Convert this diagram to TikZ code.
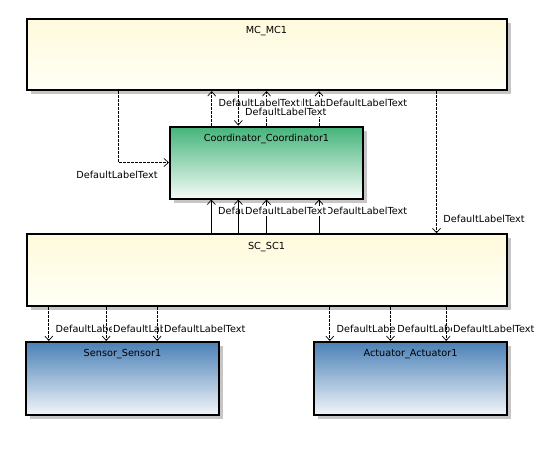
\documentclass[tikz,border=0pt]{standalone}
\usepackage{fontspec}
\setmainfont{DejaVu Sans}
\usetikzlibrary{arrows.meta,shadows}
\definecolor{ylTop}{HTML}{FFFADC}
\definecolor{ylBot}{HTML}{FFFFF6}
\definecolor{grTop}{HTML}{44B47A}
\definecolor{grBot}{HTML}{F4FBF7}
\definecolor{blTop}{HTML}{4A80B6}
\definecolor{blBot}{HTML}{F3F6FA}
\definecolor{shd}{HTML}{C6C6C6}
\tikzset{
  box/.style={draw=black, line width=2pt, inner sep=0pt,
    drop shadow={shadow xshift=4pt,shadow yshift=-4pt,fill=shd,opacity=1}},
  ylbox/.style={box, top color=ylTop, bottom color=ylBot},
  grbox/.style={box, top color=grTop, bottom color=grBot},
  blbox/.style={box, top color=blTop, bottom color=blBot},
  arr/.style={-{Straight Barb[length=4.5pt,width=8pt,line width=0.7pt]}},
  dep/.style={draw, line width=0.7pt, dash pattern=on 2.5pt off 1.5pt, arr},
  sol/.style={draw, line width=0.9pt, arr},
  lbl/.style={fill=white, inner sep=1.2pt, anchor=west},
}
\begin{document}
\begin{tikzpicture}[x=1pt,y=-1pt,font=\fontsize{9.7}{11}\selectfont]
\useasboundingbox (0,0) rectangle (556,448);

% boxes
\node[ylbox, minimum width=480pt, minimum height=71.5pt,
  label={[name=mct,anchor=center,yshift=-13.5pt]north:MC\_MC1}] (mc) at (266.5,54.3) {};
\node[grbox, minimum width=193pt, minimum height=72pt,
  label={[name=coordt,anchor=center,yshift=-13.5pt]north:Coordinator\_Coordinator1}] (coord) at (266.5,162.5) {};
\node[ylbox, minimum width=480pt, minimum height=72pt,
  label={[name=sct,anchor=center,yshift=-13.5pt]north:SC\_SC1}] (sc) at (266.5,270.3) {};
\node[blbox, minimum width=193pt, minimum height=73pt,
  label={[name=sent,anchor=center,yshift=-13.5pt]north:Sensor\_Sensor1}] (sensor) at (122.5,378.5) {};
\node[blbox, minimum width=193pt, minimum height=73pt,
  label={[name=actt,anchor=center,yshift=-13.5pt]north:Actuator\_Actuator1}] (act) at (410.5,378.5) {};

% MC -> Coordinator (left, elbow)
\draw[dep] ([xshift=93.3pt]mc.south west) |- (coord.west);
\node[lbl, anchor=east] (lL) at ([xshift=-10pt,yshift=-12.5pt]coord.west) {DefaultLabelText};

% top connectors between Coordinator and MC
\coordinate (t1s) at ([xshift=42.7pt]coord.north west);
\coordinate (t2e) at ([xshift=69.3pt]coord.north west);
\coordinate (t4s) at ([xshift=150pt]coord.north west);
\draw[dep] (coord.north) -- coordinate[pos=0.67] (t3m) (coord.north |- mc.south);
\draw[dep] (t4s) -- coordinate[pos=0.67] (t4m) (t4s |- mc.south);
\node[lbl] (l3) at ([xshift=5.5pt]t3m) {DefaultLabelText};
\draw[dep] (t1s) -- coordinate[pos=0.67] (t1m) (t1s |- mc.south);
\node[lbl] (l1) at ([xshift=5.5pt]t1m) {DefaultLabelText};
\node[lbl] (l4) at ([xshift=5.5pt]t4m) {DefaultLabelText};
\draw[dep] (t2e |- mc.south) -- coordinate[pos=0.6] (t2m) (t2e);
\node[lbl] (l2) at ([xshift=5.5pt]t2m) {DefaultLabelText};

% bottom connectors SC -> Coordinator
\coordinate (b1e) at ([xshift=42.3pt]coord.south west);
\coordinate (b2e) at ([xshift=69.3pt]coord.south west);
\coordinate (b4e) at ([xshift=150pt]coord.south west);
\draw[sol] (b1e |- sc.north) -- coordinate[pos=0.65] (b1m) (b1e);
\node[lbl] (lb1) at ([xshift=5.5pt]b1m) {DefaultLabelText};
\draw[sol] (coord.south |- sc.north) -- coordinate[pos=0.65] (b3m) (coord.south);
\node[lbl] (lb3) at ([xshift=5.5pt]b3m) {DefaultLabelText};
\draw[sol] (b4e |- sc.north) -- coordinate[pos=0.65] (b4m) (b4e);
\node[lbl] (lb4) at ([xshift=5.5pt]b4m) {DefaultLabelText};
\draw[sol] (b2e |- sc.north) -- coordinate[pos=0.65] (b2m) (b2e);
\node[lbl] (lb2) at ([xshift=5.5pt]b2m) {DefaultLabelText};

% MC -> SC (right)
\coordinate (rs) at ([xshift=411pt]mc.south west);
\draw[dep] (rs) -- coordinate[pos=0.9] (rm) (rs |- sc.north);
\node[lbl] (lr) at ([xshift=5.5pt]rm) {DefaultLabelText};

% SC -> Sensor
\coordinate (s1) at ([xshift=23.3pt]sc.south west);
\coordinate (s2) at ([xshift=80.7pt]sc.south west);
\coordinate (s3) at ([xshift=131.7pt]sc.south west);
\draw[dep] (s1) -- coordinate[pos=0.64] (s1m) (s1 |- sensor.north);
\node[lbl] (ls1) at ([xshift=5.5pt]s1m) {DefaultLabelText};
\draw[dep] (s2) -- coordinate[pos=0.64] (s2m) (s2 |- sensor.north);
\node[lbl] (ls2) at ([xshift=5.5pt]s2m) {DefaultLabelText};
\draw[dep] (s3) -- coordinate[pos=0.64] (s3m) (s3 |- sensor.north);
\node[lbl] (ls3) at ([xshift=5.5pt]s3m) {DefaultLabelText};

% SC -> Actuator
\coordinate (a1) at ([xshift=304.3pt]sc.south west);
\coordinate (a2) at ([xshift=365pt]sc.south west);
\coordinate (a3) at ([xshift=420.7pt]sc.south west);
\draw[dep] (a1) -- coordinate[pos=0.64] (a1m) (a1 |- act.north);
\node[lbl] (la1) at ([xshift=5.5pt]a1m) {DefaultLabelText};
\draw[dep] (a2) -- coordinate[pos=0.64] (a2m) (a2 |- act.north);
\node[lbl] (la2) at ([xshift=5.5pt]a2m) {DefaultLabelText};
\draw[dep] (a3) -- coordinate[pos=0.64] (a3m) (a3 |- act.north);
\node[lbl] (la3) at ([xshift=5.5pt]a3m) {DefaultLabelText};
\end{tikzpicture}
\end{document}
